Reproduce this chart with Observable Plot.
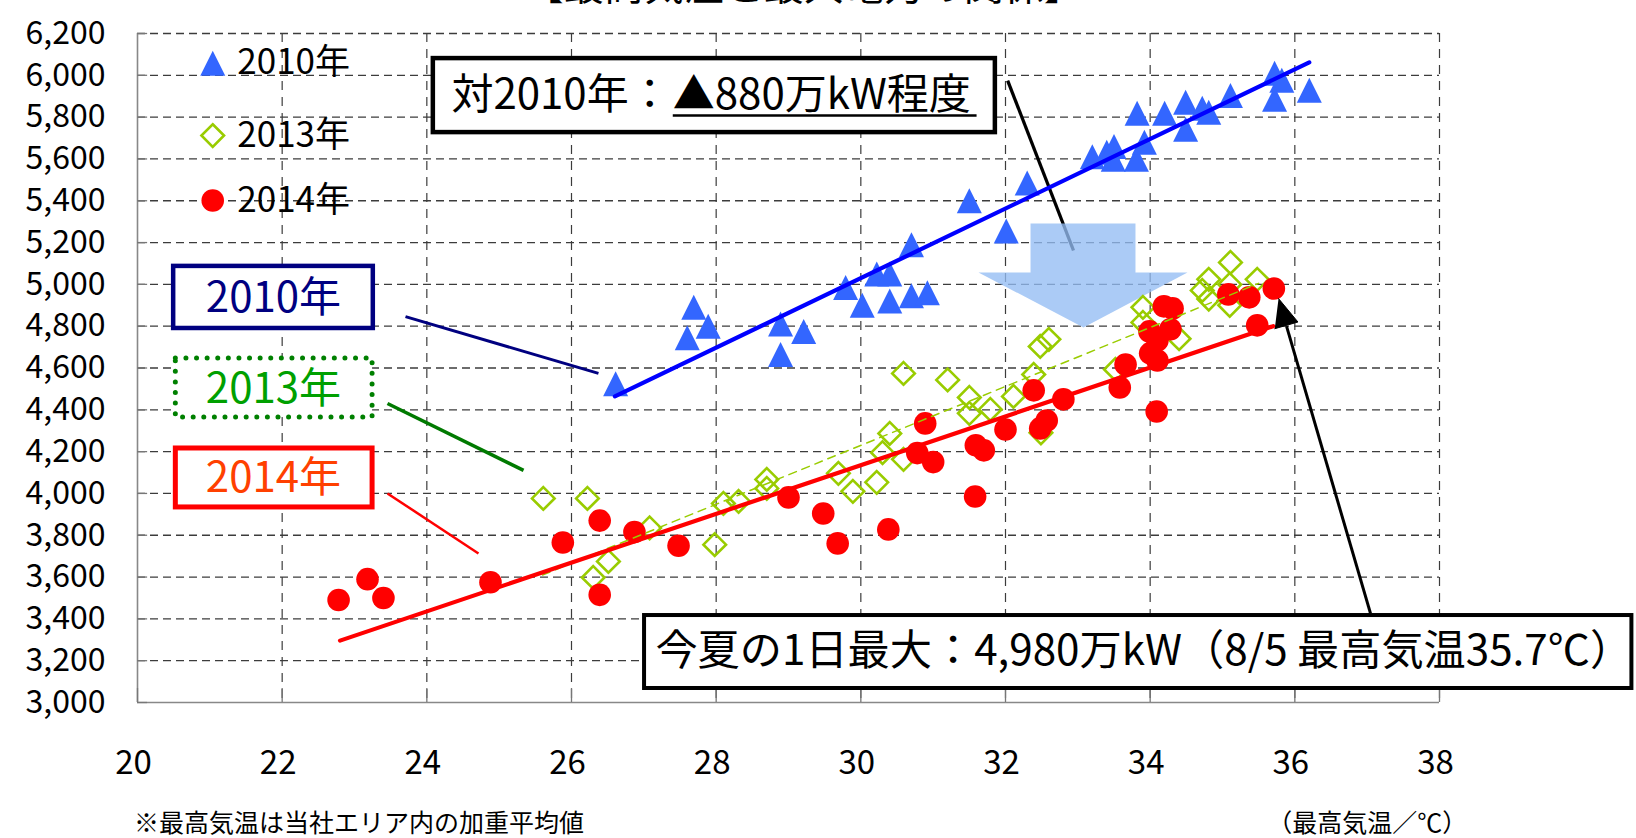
<!DOCTYPE html>
<html><head><meta charset="utf-8">
<script src="https://cdn.jsdelivr.net/npm/d3@7"></script>
<script src="https://cdn.jsdelivr.net/npm/@observablehq/plot@0.6"></script>
<style>html,body{margin:0;padding:0;background:#fff;} #chart svg{display:block;}</style>
</head><body><div id="chart"></div>
<script>
// ---- data ----
const xTicks = [20, 22, 24, 26, 28, 30, 32, 34, 36, 38];
const yTicks = [3000, 3200, 3400, 3600, 3800, 4000, 4200, 4400, 4600, 4800, 5000, 5200, 5400, 5600, 5800, 6000, 6200];
const seriesNames = ["2010年", "2013年", "2014年"];

const temp2010 = [26.61, 27.60, 27.69, 27.89, 28.89, 28.89, 29.21, 29.79, 30.02, 30.22, 30.40, 30.40, 30.70, 30.70, 30.92, 31.50, 32.01, 32.30, 33.20, 33.40, 33.50, 33.49, 33.81, 33.92, 33.82, 34.20, 34.49, 34.49, 34.72, 34.81, 35.11, 35.72, 35.82, 35.72, 36.20];
const load2010 = [4525, 4745, 4890, 4800, 4810, 4665, 4775, 4985, 4900, 5050, 5050, 4920, 4945, 5190, 4960, 5400, 5255, 5485, 5610, 5632, 5660, 5598, 5598, 5680, 5818, 5818, 5871, 5742, 5842, 5823, 5904, 6010, 5976, 5885, 5928];

const temp2013 = [25.61, 26.22, 26.30, 26.51, 27.08, 27.98, 28.10, 28.31, 28.70, 28.70, 29.69, 29.89, 30.22, 30.30, 30.40, 30.59, 30.59, 31.20, 31.50, 31.50, 31.79, 32.11, 32.39, 32.48, 32.60, 32.49, 33.52, 33.90, 33.90, 34.40, 34.72, 34.81, 34.81, 35.11, 35.10, 35.10, 35.48];
const load2013 = [3976, 3976, 3598, 3675, 3835, 3755, 3952, 3962, 4067, 4024, 4096, 4010, 4053, 4195, 4287, 4163, 4574, 4543, 4459, 4383, 4402, 4464, 4569, 4703, 4737, 4290, 4593, 4890, 4818, 4740, 4971, 5024, 4930, 5105, 4900, 5000, 5024];

const temp2014 = [22.78, 23.18, 23.40, 24.88, 25.88, 26.39, 26.39, 26.87, 27.48, 29.00, 29.48, 29.68, 30.38, 30.89, 30.78, 31.00, 31.58, 31.59, 31.70, 32.00, 32.39, 32.48, 32.57, 32.80, 33.58, 33.66, 34.09, 34.00, 34.10, 33.99, 34.10, 34.28, 34.19, 34.31, 35.08, 35.37, 35.48, 35.71];
const load2014 = [3490, 3590, 3500, 3575, 3765, 3870, 3515, 3815, 3750, 3981, 3904, 3761, 3828, 4335, 4193, 4150, 3985, 4230, 4206, 4306, 4493, 4311, 4349, 4450, 4507, 4617, 4392, 4670, 4636, 4775, 4732, 4785, 4895, 4885, 4952, 4938, 4804, 4980];

const trendTemp2010 = [26.6, 36.2], trendLoad2010 = [4464, 6062];
const trendTemp2013 = [25.6, 35.5], trendLoad2013 = [3610, 5005];
const trendTemp2014 = [22.8, 35.7], trendLoad2014 = [3296, 4800];

const noteReduction = ["対2010年：", "▲880万kW程度"];
const notePeak = "今夏の1日最大：4,980万kW（8/5 最高気温35.7℃）";
const footnote = "※最高気温は当社エリア内の加重平均値";
const xAxisUnit = "（最高気温／℃）";
const chartTitle = "【最高気温と最大電力の関係】";

// ---- helpers ----
const zip = (t, v) => t.map((d, i) => ({t: d, v: v[i]}));
const pts2010 = zip(temp2010, load2010), pts2013 = zip(temp2013, load2013), pts2014 = zip(temp2014, load2014);
const tr2010 = zip(trendTemp2010, trendLoad2010), tr2013 = zip(trendTemp2013, trendLoad2013), tr2014 = zip(trendTemp2014, trendLoad2014);

const triangle = {draw(c, s) { const r = Math.sqrt(s / Math.PI); c.moveTo(0, -r); c.lineTo(r, r); c.lineTo(-r, r); c.closePath(); }};
const diamond = {draw(c, s) { const r = Math.sqrt(s / Math.PI); c.moveTo(0, -r); c.lineTo(r, 0); c.lineTo(0, r); c.lineTo(-r, 0); c.closePath(); }};

const F = "'Noto Sans CJK JP','Noto Sans',sans-serif";
const BLUE = "#3366ff", LIME = "#99cc00", RED = "#ff0000";

const legend = [
  {name: seriesNames[0], y: 6058},
  {name: seriesNames[1], y: 5712},
  {name: seriesNames[2], y: 5401}
];

const blueArrow = [
  {t: 32.346, v: 5291}, {t: 33.797, v: 5291}, {t: 33.797, v: 5057}, {t: 34.516, v: 5057},
  {t: 33.078, v: 4794}, {t: 31.627, v: 5057}, {t: 32.346, v: 5057}
];
const peakHead = [{t: 35.775, v: 4932}, {t: 36.043, v: 4820}, {t: 35.723, v: 4788}];

const plot = Plot.plot({
  width: 1636, height: 838,
  marginLeft: 137, marginRight: 197, marginTop: 33, marginBottom: 136,
  x: {domain: [20, 38], label: null},
  y: {domain: [3000, 6200], label: null},
  style: {fontFamily: F, color: "#000", background: "#fff", overflow: "visible"},
  marks: [
    // grid
    Plot.gridY(yTicks.slice(1), {stroke: "#3c3c3c", strokeOpacity: 1, strokeWidth: 1.3, strokeDasharray: "8,5"}),
    Plot.gridX(xTicks.slice(1), {stroke: "#3c3c3c", strokeOpacity: 1, strokeWidth: 1.2, strokeDasharray: "9,7"}),
    // axis lines and inward ticks
    Plot.ruleX([20], {stroke: "#888", strokeWidth: 1.6}),
    Plot.ruleY([3000], {stroke: "#888", strokeWidth: 1.6}),
    Plot.ruleX(xTicks, {x: d => d, y1: 3000, y2: 3067, stroke: "#777", strokeWidth: 1.3}),
    Plot.ruleY(yTicks, {y: d => d, x1: 20, x2: 20.14, stroke: "#777", strokeWidth: 1.3}),
    Plot.axisY(yTicks, {tickSize: 0, tickPadding: 32, tickFormat: d3.format(","), fontSize: 32, label: null}),
    Plot.axisX(xTicks, {tickSize: 0, tickPadding: 48, tickFormat: d => String(d), fontSize: 33, dx: -4, label: null}),

    // legend
    Plot.dot(legend.slice(0, 1), {x: () => 21.04, y: "y", symbol: triangle, r: 12.5, fill: BLUE, stroke: "none"}),
    Plot.dot(legend.slice(1, 2), {x: () => 21.04, y: "y", symbol: diamond, r: 11.3, fill: "none", stroke: LIME, strokeWidth: 2.6}),
    Plot.dot(legend.slice(2, 3), {x: () => 21.04, y: "y", r: 11.3, fill: RED, stroke: "none"}),
    Plot.text(legend, {x: () => 21.38, y: "y", text: "name", textAnchor: "start", lineAnchor: "middle", fontSize: 35}),

    // series label boxes and leader lines
    Plot.rect([seriesNames[0]], {x1: () => 20.50, x2: () => 23.26, y1: () => 4789, y2: () => 5086, fill: "#fff", stroke: "#000080", strokeWidth: 4.5}),
    Plot.text([seriesNames[0]], {x: () => 21.88, y: () => 4932, text: d => d, fill: "#000080", fontSize: 42, lineAnchor: "middle"}),
    Plot.rect([seriesNames[1]], {x1: () => 20.53, x2: () => 23.25, y1: () => 4363, y2: () => 4645, fill: "#fff", stroke: "#008000", strokeWidth: 5, strokeDasharray: "0,10.6", strokeLinecap: "round"}),
    Plot.text([seriesNames[1]], {x: () => 21.88, y: () => 4495, text: d => d, fill: "#00a000", fontSize: 42, lineAnchor: "middle"}),
    Plot.rect([seriesNames[2]], {x1: () => 20.53, x2: () => 23.25, y1: () => 3933, y2: () => 4215, fill: "#fff", stroke: "#ff0000", strokeWidth: 5}),
    Plot.text([seriesNames[2]], {x: () => 21.88, y: () => 4071, text: d => d, fill: "#ff4000", fontSize: 42, lineAnchor: "middle"}),
    Plot.link([0], {x1: () => 23.705, y1: () => 4846, x2: () => 26.373, y2: () => 4574, stroke: "#000080", strokeWidth: 3}),
    Plot.link([0], {x1: () => 23.456, y1: () => 4430, x2: () => 25.337, y2: () => 4110, stroke: "#007a00", strokeWidth: 3.5}),
    Plot.link([0], {x1: () => 23.456, y1: () => 4000, x2: () => 24.714, y2: () => 3713, stroke: RED, strokeWidth: 2.5}),

    // reduction annotation: pointer line then translucent arrow
    Plot.link([0], {x1: () => 32.03, y1: () => 5975, x2: () => 32.94, y2: () => 5162, stroke: "#000", strokeWidth: 3.3}),
    Plot.line(blueArrow, {x: "t", y: "v", fill: "#93bdf4", fillOpacity: 0.78, stroke: "none"}),

    // data points
    Plot.dot(pts2010, {x: "t", y: "v", symbol: triangle, r: 12.5, fill: BLUE, stroke: "none"}),
    Plot.dot(pts2013, {x: "t", y: "v", symbol: diamond, r: 11.3, fill: "none", stroke: LIME, strokeWidth: 2.6}),
    Plot.dot(pts2014, {x: "t", y: "v", r: 11.3, fill: RED, stroke: "none"}),

    // trend lines
    Plot.line(tr2010, {x: "t", y: "v", stroke: "#0000ff", strokeWidth: 4.2, strokeLinecap: "round"}),
    Plot.line(tr2013, {x: "t", y: "v", stroke: LIME, strokeWidth: 1.5, strokeDasharray: "8,6"}),
    Plot.line(tr2014, {x: "t", y: "v", stroke: "#ff0000", strokeWidth: 4.2, strokeLinecap: "round"}),

    // top annotation box
    Plot.rect([0], {x1: () => 24.09, x2: () => 31.86, y1: () => 5726, y2: () => 6080, fill: "#fff", stroke: "#000", strokeWidth: 4.5}),
    Plot.text([noteReduction[0]], {x: () => 24.34, y: () => 5905, text: d => d, textAnchor: "start", lineAnchor: "middle", fontSize: 42}),
    Plot.text([noteReduction[1]], {x: () => 27.40, y: () => 5905, text: d => d, textAnchor: "start", lineAnchor: "middle", fontSize: 42}),
    Plot.link([0], {x1: () => 27.40, y1: () => 5808, x2: () => 31.60, y2: () => 5808, stroke: "#000", strokeWidth: 2.5}),

    // peak annotation box and arrow
    Plot.rect([0], {x1: () => 27.01, x2: () => 40.66, y1: () => 3067, y2: () => 3416, fill: "#fff", stroke: "#000", strokeWidth: 4}),
    Plot.text([notePeak], {x: () => 27.16, y: () => 3244, text: d => d, textAnchor: "start", lineAnchor: "middle", fontSize: 42.2}),
    Plot.link([0], {x1: () => 37.046, y1: () => 3426, x2: () => 35.885, y2: () => 4800, stroke: "#000", strokeWidth: 3}),
    Plot.line(peakHead, {x: "t", y: "v", fill: "#000", stroke: "#000", strokeWidth: 1}),

    // captions
    Plot.text([footnote], {x: () => 19.95, y: () => 2420, text: d => d, textAnchor: "start", lineAnchor: "middle", fontSize: 25}),
    Plot.text([xAxisUnit], {x: () => 35.62, y: () => 2420, text: d => d, textAnchor: "start", lineAnchor: "middle", fontSize: 25}),
    Plot.text([chartTitle], {x: () => 29.21, y: () => 6360, text: d => d, textAnchor: "middle", lineAnchor: "bottom", fontSize: 40})
  ]
});
document.getElementById("chart").append(plot);
</script>
</body></html>
